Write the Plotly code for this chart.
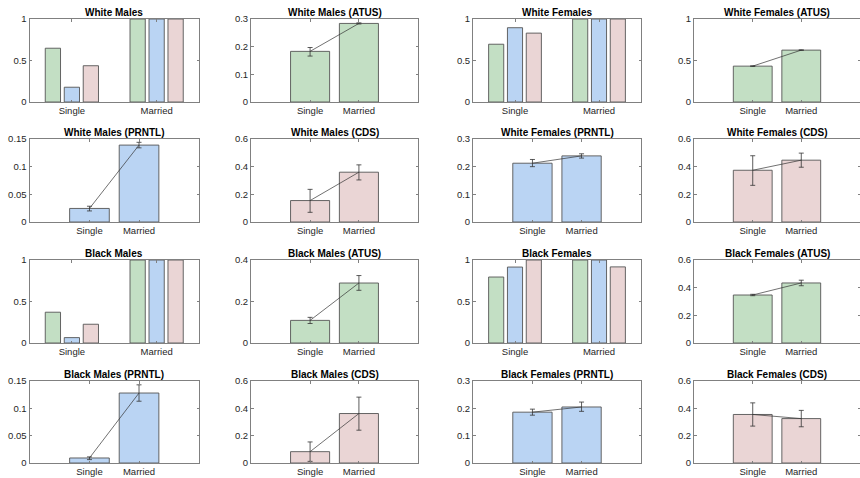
import plotly.graph_objects as go

W, H = 860, 478

categories = ["Single", "Married"]

# Colours
GREEN = "#c3dfc4"
BLUE = "#bad4f3"
RED = "#ead5d5"
EDGE = "#555555"

# Grouped panels: (green, blue, red) values for Single and Married
wm_green = [0.648, 1.0]
wm_blue = [0.178, 1.0]
wm_red = [0.437, 1.0]

wf_green = [0.696, 1.0]
wf_blue = [0.895, 1.0]
wf_red = [0.830, 1.0]

bm_green = [0.371, 1.0]
bm_blue = [0.065, 1.0]
bm_red = [0.226, 1.0]

bf_green = [0.795, 1.0]
bf_blue = [0.915, 1.0]
bf_red = [1.0, 0.917]

# Single-series panels: means, upper and lower error
wm_atus = [0.183, 0.284]; wm_atus_up = [0.014, 0.002]; wm_atus_dn = [0.017, 0.002]
wf_atus = [0.432, 0.625]; wf_atus_up = [0.003, 0.003]; wf_atus_dn = [0.003, 0.003]
wm_prntl = [0.0245, 0.139]; wm_prntl_up = [0.004, 0.005]; wm_prntl_dn = [0.0045, 0.005]
wm_cds = [0.155, 0.360]; wm_cds_up = [0.081, 0.053]; wm_cds_dn = [0.085, 0.056]
wf_prntl = [0.2125, 0.239]; wf_prntl_up = [0.0135, 0.0075]; wf_prntl_dn = [0.0125, 0.008]
wf_cds = [0.374, 0.447]; wf_cds_up = [0.105, 0.051]; wf_cds_dn = [0.109, 0.051]
bm_atus = [0.109, 0.289]; bm_atus_up = [0.0146, 0.036]; bm_atus_dn = [0.015, 0.035]
bf_atus = [0.347, 0.434]; bf_atus_up = [0.005, 0.02]; bf_atus_dn = [0.005, 0.02]
bm_prntl = [0.0092, 0.128]; bm_prntl_up = [0.002, 0.015]; bm_prntl_dn = [0.003, 0.015]
bm_cds = [0.083, 0.362]; bm_cds_up = [0.071, 0.12]; bm_cds_dn = [0.071, 0.122]
bf_prntl = [0.186, 0.205]; bf_prntl_up = [0.011, 0.018]; bf_prntl_dn = [0.011, 0.016]
bf_cds = [0.355, 0.325]; bf_cds_up = [0.085, 0.06]; bf_cds_dn = [0.085, 0.06]

# Y tick labels
ticks_1 = [0, 0.5, 1]
ticks_03 = [0, 0.1, 0.2, 0.3]
ticks_015 = [0, 0.05, 0.1, 0.15]
ticks_06 = [0, 0.2, 0.4, 0.6]
ticks_04 = [0, 0.2, 0.4]

def fmt(v):
    return "0" if v == 0 else ("%g" % v)

# Panels in row-major order
panels = [
    dict(title="White Males", kind="group", vals=(wm_green, wm_blue, wm_red), ticks=ticks_1),
    dict(title="White Males (ATUS)", kind="single", vals=wm_atus, up=wm_atus_up, dn=wm_atus_dn, color=GREEN, ticks=ticks_03),
    dict(title="White Females", kind="group", vals=(wf_green, wf_blue, wf_red), ticks=ticks_1),
    dict(title="White Females (ATUS)", kind="single", vals=wf_atus, up=wf_atus_up, dn=wf_atus_dn, color=GREEN, ticks=ticks_1),
    dict(title="White Males (PRNTL)", kind="single", vals=wm_prntl, up=wm_prntl_up, dn=wm_prntl_dn, color=BLUE, ticks=ticks_015),
    dict(title="White Males (CDS)", kind="single", vals=wm_cds, up=wm_cds_up, dn=wm_cds_dn, color=RED, ticks=ticks_06),
    dict(title="White Females (PRNTL)", kind="single", vals=wf_prntl, up=wf_prntl_up, dn=wf_prntl_dn, color=BLUE, ticks=ticks_03),
    dict(title="White Females (CDS)", kind="single", vals=wf_cds, up=wf_cds_up, dn=wf_cds_dn, color=RED, ticks=ticks_06),
    dict(title="Black Males", kind="group", vals=(bm_green, bm_blue, bm_red), ticks=ticks_1),
    dict(title="Black Males (ATUS)", kind="single", vals=bm_atus, up=bm_atus_up, dn=bm_atus_dn, color=GREEN, ticks=ticks_04),
    dict(title="Black Females", kind="group", vals=(bf_green, bf_blue, bf_red), ticks=ticks_1),
    dict(title="Black Females (ATUS)", kind="single", vals=bf_atus, up=bf_atus_up, dn=bf_atus_dn, color=GREEN, ticks=ticks_06),
    dict(title="Black Males (PRNTL)", kind="single", vals=bm_prntl, up=bm_prntl_up, dn=bm_prntl_dn, color=BLUE, ticks=ticks_015),
    dict(title="Black Males (CDS)", kind="single", vals=bm_cds, up=bm_cds_up, dn=bm_cds_dn, color=RED, ticks=ticks_06),
    dict(title="Black Females (PRNTL)", kind="single", vals=bf_prntl, up=bf_prntl_up, dn=bf_prntl_dn, color=BLUE, ticks=ticks_03),
    dict(title="Black Females (CDS)", kind="single", vals=bf_cds, up=bf_cds_up, dn=bf_cds_dn, color=RED, ticks=ticks_06),
]

col_px = [(29.5, 199), (251, 418), (473, 641), (694, 860)]
row_px = [(19, 102), (139, 222), (260, 343), (381, 463)]

fig = go.Figure()
layout = dict(
    width=W, height=H, margin=dict(l=0, r=0, t=0, b=0, autoexpand=False),
    paper_bgcolor="white", plot_bgcolor="white",
    barmode="overlay", showlegend=False,
    font=dict(family="Liberation Sans, Arial, sans-serif", size=9, color="#262626"),
)
annotations = []
xpos = [1, 2]
AX_LINE = "#808080"

for i, p in enumerate(panels):
    r, c = divmod(i, 4)
    n = i + 1
    xa = "x" if n == 1 else "x%d" % n
    ya = "y" if n == 1 else "y%d" % n
    x0, x1 = col_px[c]
    y0, y1 = row_px[r]
    xdom = [x0 / W, min(x1 / W, 1.0)]
    ydom = [1 - y1 / H, 1 - y0 / H]
    if p["kind"] == "group":
        xr = [0.5, 2.5]
        bw = 0.18
        for vals, col, off in zip(p["vals"], [GREEN, BLUE, RED], [-0.314, -0.09, 0.134]):
            fig.add_trace(go.Bar(x=xpos, y=vals, xaxis=xa, yaxis=ya, width=bw, offset=off,
                                 marker=dict(color=col, line=dict(color=EDGE, width=0.9))))
    else:
        xr = [-0.21, 3.21]
        fig.add_trace(go.Bar(x=xpos, y=p["vals"], xaxis=xa, yaxis=ya, width=0.8,
                             marker=dict(color=p["color"], line=dict(color=EDGE, width=0.9))))
        fig.add_trace(go.Scatter(x=xpos, y=p["vals"], xaxis=xa, yaxis=ya, mode="lines",
                                 line=dict(color="#333333", width=0.7),
                                 error_y=dict(type="data", array=p["up"], arrayminus=p["dn"],
                                              color="#333333", thickness=0.8, width=2.5)))
    tk = p["ticks"]
    layout["xaxis" if n == 1 else "xaxis%d" % n] = dict(
        domain=xdom, range=xr, anchor=ya, tickvals=xpos, ticktext=categories,
        showline=True, linecolor=AX_LINE, linewidth=1, mirror="ticks", automargin=False,
        ticks="inside", ticklen=2.5, tickcolor=AX_LINE, showgrid=False, zeroline=False,
        tickfont=dict(size=9.5, color="#262626"), fixedrange=True)
    layout["yaxis" if n == 1 else "yaxis%d" % n] = dict(
        domain=ydom, range=[0, tk[-1]], anchor=xa, tickvals=tk, ticktext=[fmt(v) for v in tk],
        showline=True, linecolor=AX_LINE, linewidth=1, mirror="ticks", automargin=False,
        ticks="inside", ticklen=2.5, tickcolor=AX_LINE, showgrid=False, zeroline=False,
        tickfont=dict(size=9.5, color="#262626"), fixedrange=True)
    annotations.append(dict(text="<b>%s</b>" % p["title"], xref="paper", yref="paper",
                            x=(x0 + min(x1, 861)) / 2 / W, y=1 - y0 / H, xanchor="center",
                            yanchor="bottom", showarrow=False, yshift=-1,
                            font=dict(size=10, color="black", family="Liberation Sans, Arial, sans-serif")))

layout["annotations"] = annotations
fig.update_layout(**layout)
fig.write_html("out.html", config={"displayModeBar": False},
               post_script="document.body.style.margin='0';document.body.style.overflow='hidden';")
